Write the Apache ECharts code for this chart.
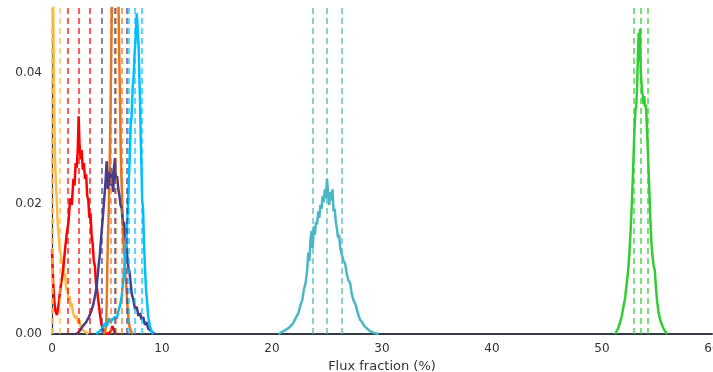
<!DOCTYPE html>
<html>
<head>
<meta charset="utf-8">
<script src="https://cdn.jsdelivr.net/npm/echarts@6/dist/echarts.min.js"></script>
<style>html,body{margin:0;padding:0;background:#fff}#c{width:713px;height:372px}</style>
</head>
<body>
<div id="c"></div>
<script>
// ---- data ----
const xTicks = [0, 10, 20, 30, 40, 50, 60];
const yTicks = [0.00, 0.02, 0.04];

const yellowX = [0, 0.03, 0.08, 0.13, 0.2, 0.27, 0.35, 0.43, 0.52, 0.6, 0.7, 0.8, 0.9, 1.0, 1.1, 1.2, 1.3, 1.4, 1.5, 1.6, 1.7, 1.8, 1.9, 2.0, 2.1, 2.2, 2.35, 2.5, 2.65, 2.8, 2.95, 3.1, 3.3];
const yellowY = [0.09, 0.075, 0.058, 0.046, 0.035, 0.027, 0.0235, 0.0205, 0.0168, 0.0152, 0.0128, 0.0122, 0.0108, 0.0112, 0.0088, 0.0093, 0.0067, 0.0072, 0.0052, 0.0058, 0.0041, 0.0047, 0.0033, 0.0036, 0.0024, 0.0028, 0.0017, 0.0021, 0.0009, 0.0012, 0.0004, 0.0002, 0];
const yellowMarks = [0.02, 0.1, 0.7];

const redX = [0, 0.1, 0.2, 0.3, 0.45, 0.6, 0.75, 0.9, 1.05, 1.2, 1.35, 1.5, 1.65, 1.8, 1.95, 2.05, 2.15, 2.25, 2.35, 2.42, 2.5, 2.6, 2.7, 2.8, 2.9, 3.0, 3.1, 3.2, 3.3, 3.4, 3.5, 3.6, 3.7, 3.8, 3.9, 4.0, 4.1, 4.2, 4.35, 4.5, 4.65, 4.8, 5.0, 5.3, 5.5, 5.7, 5.9];
const redY = [0.013, 0.008, 0.0052, 0.0036, 0.0029, 0.0045, 0.0068, 0.0085, 0.0105, 0.0132, 0.0155, 0.0172, 0.0208, 0.0198, 0.0238, 0.0228, 0.0262, 0.0255, 0.0285, 0.0334, 0.0292, 0.0268, 0.0282, 0.0252, 0.0262, 0.0238, 0.0245, 0.0212, 0.0205, 0.0178, 0.0185, 0.0152, 0.0138, 0.0112, 0.0104, 0.0078, 0.0068, 0.0052, 0.0032, 0.0014, 0.0008, 0.0002, 0, 0.0003, 0.0012, 0.0002, 0];
const redMarks = [1.45, 2.45, 3.45];

const orangeX = [4.7, 4.85, 4.95, 5.02, 5.08, 5.14, 5.2, 5.26, 5.32, 5.38, 5.45, 5.55, 5.65, 5.75, 5.85, 5.95, 6.05, 6.12, 6.18, 6.24, 6.3, 6.37, 6.44, 6.52, 6.6, 6.68, 6.76, 6.85, 6.95, 7.05, 7.2, 7.35];
const orangeY = [0, 0.0004, 0.0025, 0.0095, 0.0145, 0.0175, 0.0225, 0.0275, 0.034, 0.042, 0.052, 0.062, 0.068, 0.072, 0.066, 0.058, 0.05, 0.042, 0.036, 0.029, 0.0245, 0.021, 0.0165, 0.0132, 0.0118, 0.0088, 0.0072, 0.0045, 0.0025, 0.0011, 0.0004, 0];
const orangeMarks = [5.3, 5.75, 6.3];

const purpleX = [2.2, 2.5, 2.8, 3.1, 3.35, 3.55, 3.75, 3.9, 4.05, 4.2, 4.35, 4.5, 4.62, 4.75, 4.87, 4.97, 5.07, 5.17, 5.27, 5.37, 5.47, 5.57, 5.65, 5.73, 5.82, 5.92, 6.03, 6.13, 6.23, 6.34, 6.45, 6.55, 6.65, 6.75, 6.85, 6.95, 7.05, 7.15, 7.25, 7.4, 7.55, 7.7, 7.85, 8.0, 8.15, 8.3, 8.45, 8.6, 8.75, 8.9, 9.05, 9.2, 9.35];
const purpleY = [0, 0.0004, 0.0012, 0.0018, 0.0026, 0.0034, 0.0045, 0.0058, 0.0072, 0.0098, 0.0122, 0.0155, 0.0178, 0.0208, 0.0235, 0.0265, 0.0222, 0.0248, 0.0228, 0.0255, 0.0232, 0.0218, 0.0258, 0.027, 0.0236, 0.0242, 0.0222, 0.0212, 0.0198, 0.0192, 0.0168, 0.0172, 0.0152, 0.0136, 0.0118, 0.0102, 0.0095, 0.0078, 0.0062, 0.0052, 0.0038, 0.0042, 0.0028, 0.0032, 0.0022, 0.0026, 0.0014, 0.0018, 0.0008, 0.0011, 0.0004, 0.0003, 0];
const purpleMarks = [4.5, 5.7, 6.75];

const blueX = [4.0, 4.3, 4.55, 4.8, 5.0, 5.15, 5.3, 5.5, 5.7, 5.9, 6.05, 6.2, 6.34, 6.48, 6.6, 6.7, 6.8, 6.9, 6.98, 7.06, 7.15, 7.24, 7.33, 7.42, 7.5, 7.57, 7.63, 7.7, 7.76, 7.82, 7.88, 7.94, 8.0, 8.07, 8.14, 8.2, 8.28, 8.36, 8.45, 8.55, 8.65, 8.75, 8.9, 9.05, 9.2];
const blueY = [0, 0.0004, 0.0008, 0.0016, 0.0012, 0.0024, 0.0018, 0.0022, 0.0026, 0.0024, 0.0036, 0.0045, 0.0058, 0.0082, 0.0105, 0.013, 0.0158, 0.0195, 0.0232, 0.0268, 0.0318, 0.0335, 0.0378, 0.0395, 0.0428, 0.0445, 0.0462, 0.0492, 0.0478, 0.0458, 0.0438, 0.0395, 0.0358, 0.0298, 0.0252, 0.0205, 0.0192, 0.0142, 0.0102, 0.0068, 0.0048, 0.0026, 0.0012, 0.0004, 0];
const blueMarks = [7.0, 7.5, 8.15];

const tealX = [20.6, 20.9, 21.2, 21.5, 21.8, 22.0, 22.2, 22.4, 22.6, 22.75, 22.9, 23.05, 23.2, 23.3, 23.4, 23.5, 23.6, 23.7, 23.8, 23.9, 24.0, 24.1, 24.2, 24.3, 24.4, 24.5, 24.6, 24.7, 24.8, 24.9, 25.0, 25.1, 25.2, 25.3, 25.4, 25.5, 25.6, 25.7, 25.8, 25.9, 26.0, 26.1, 26.2, 26.35, 26.5, 26.65, 26.8, 26.95, 27.1, 27.25, 27.4, 27.6, 27.8, 28.0, 28.2, 28.4, 28.6, 28.85, 29.1, 29.4, 29.7];
const tealY = [0, 0.0003, 0.0006, 0.0009, 0.0014, 0.0019, 0.0026, 0.0032, 0.0045, 0.0052, 0.0068, 0.0078, 0.0098, 0.0125, 0.0112, 0.0145, 0.0158, 0.0132, 0.0165, 0.0152, 0.0172, 0.0168, 0.0188, 0.0178, 0.0198, 0.0192, 0.0212, 0.0202, 0.0222, 0.0208, 0.0238, 0.0215, 0.0198, 0.0218, 0.0205, 0.0222, 0.0188, 0.0192, 0.0172, 0.0162, 0.0148, 0.0152, 0.0132, 0.0135, 0.0112, 0.0108, 0.0092, 0.0082, 0.0078, 0.0062, 0.0052, 0.0045, 0.0032, 0.0022, 0.0018, 0.0012, 0.0009, 0.0005, 0.0003, 0.0001, 0];
const tealMarks = [23.7, 24.95, 26.3];

const greenX = [51.2, 51.45, 51.65, 51.8, 51.95, 52.1, 52.25, 52.38, 52.5, 52.6, 52.7, 52.8, 52.88, 52.96, 53.04, 53.12, 53.2, 53.27, 53.33, 53.4, 53.46, 53.52, 53.58, 53.64, 53.7, 53.77, 53.84, 53.92, 54.0, 54.08, 54.16, 54.24, 54.32, 54.4, 54.5, 54.6, 54.7, 54.8, 54.9, 55.0, 55.15, 55.3, 55.5, 55.7, 55.95];
const greenY = [0, 0.0008, 0.0018, 0.0028, 0.0042, 0.0055, 0.0078, 0.0098, 0.0125, 0.0158, 0.0195, 0.0238, 0.0278, 0.0318, 0.0342, 0.0352, 0.0385, 0.0428, 0.0462, 0.0418, 0.0468, 0.0402, 0.0388, 0.0372, 0.0368, 0.0352, 0.0365, 0.0348, 0.0352, 0.0318, 0.0285, 0.0248, 0.0212, 0.0175, 0.0138, 0.0118, 0.0104, 0.0098, 0.0072, 0.0052, 0.0032, 0.0021, 0.0012, 0.0005, 0];
const greenMarks = [52.85, 53.55, 54.2];

// ---- build ----
const groups = [
  {x: yellowX, y: yellowY, m: yellowMarks, c: '#FFB940'},
  {x: redX, y: redY, m: redMarks, c: '#FF0000'},
  {x: orangeX, y: orangeY, m: orangeMarks, c: '#E8741E'},
  {x: purpleX, y: purpleY, m: purpleMarks, c: '#483D8B'},
  {x: blueX, y: blueY, m: blueMarks, c: '#00BFFF'},
  {x: tealX, y: tealY, m: tealMarks, c: '#48B7C6'},
  {x: greenX, y: greenY, m: greenMarks, c: '#32CD32'}
];

const series = groups.map(g => ({
  type: 'line',
  data: g.x.map((v, i) => [v, g.y[i]]),
  showSymbol: false,
  symbol: 'none',
  clip: true,
  lineStyle: {color: g.c, width: 2.5},
  itemStyle: {color: g.c},
  silent: true,
  animation: false,
  markLine: {
    silent: true,
    symbol: ['none', 'none'],
    label: {show: false},
    animation: false,
    lineStyle: {color: g.c, type: [6, 4], width: 1.5, opacity: 0.85},
    emphasis: {disabled: true},
    data: g.m.map(v => ({xAxis: v}))
  }
}));

const chart = echarts.init(document.getElementById('c'), null, {renderer: 'canvas'});
chart.setOption({
  animation: false,
  backgroundColor: '#ffffff',
  grid: {left: 52, right: 1, top: 8, bottom: 38, containLabel: false, outerBoundsMode: 'none'},
  xAxis: {
    type: 'value',
    min: xTicks[0], max: xTicks[xTicks.length - 1], interval: 10,
    name: 'Flux fraction (%)', nameLocation: 'middle', nameGap: 20,
    nameTextStyle: {color: '#333333', fontSize: 13, fontFamily: 'DejaVu Sans'},
    axisLine: {show: true, onZero: false, lineStyle: {color: '#333a48', width: 2}},
    axisTick: {show: false},
    splitLine: {show: false},
    axisLabel: {color: '#333333', fontSize: 12, fontFamily: 'DejaVu Sans', margin: 9,
      formatter: v => xTicks.includes(v) ? String(v) : ''}
  },
  yAxis: {
    type: 'value',
    min: 0, max: 0.05, interval: 0.02,
    axisLine: {show: true, lineStyle: {color: '#333a48', width: 1.2}},
    axisTick: {show: false},
    splitLine: {show: false},
    axisLabel: {color: '#333333', fontSize: 12, fontFamily: 'DejaVu Sans', margin: 10, showMaxLabel: false,
      formatter: v => yTicks.some(t => Math.abs(t - v) < 1e-9) ? v.toFixed(2) : ''}
  },
  series: series
});
</script>
</body>
</html>
